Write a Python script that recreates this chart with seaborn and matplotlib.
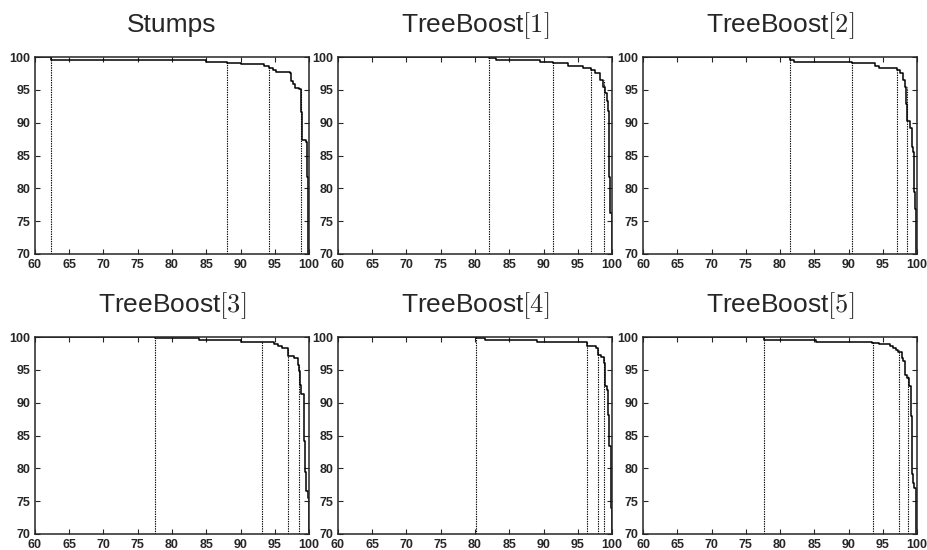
import numpy as np
import pandas as pd
import seaborn as sns
import matplotlib.pyplot as plt

# titulos de cada panel
titles = ['Stumps', r'TreeBoost$[1]$', r'TreeBoost$[2]$',
          r'TreeBoost$[3]$', r'TreeBoost$[4]$', r'TreeBoost$[5]$']

# curvas escalonadas (x donde cambia el nivel, nivel nuevo)
x_stumps = [60, 62.3, 78.3, 80.0, 85.0, 88.0, 90.0, 93.5, 94.2, 94.8, 95.2, 97.2, 97.3, 97.6, 98.0, 98.6, 98.9, 99.0, 99.6, 99.75, 99.9]
y_stumps = [100, 99.6, 99.6, 99.5, 99.3, 99.1, 98.9, 98.7, 98.3, 98.0, 97.7, 97.5, 96.4, 95.9, 95.3, 95.1, 91.6, 87.3, 87.0, 81.8, 70]

x_tb1 = [60, 82.0, 83.1, 89.5, 91.35, 93.6, 95.7, 96.9, 97.5, 98.2, 98.7, 99.0, 99.2, 99.4, 99.5, 99.75, 99.95]
y_tb1 = [100, 99.8, 99.5, 99.3, 99.1, 98.6, 98.3, 98.0, 97.5, 96.5, 95.5, 94.5, 93.3, 91.8, 81.8, 76.3, 70]

x_tb2 = [60, 81.4, 82.0, 90.55, 93.8, 94.5, 97.1, 97.5, 98.0, 98.2, 98.4, 98.6, 99.0, 99.2, 99.4, 99.6, 99.75, 99.9]
y_tb2 = [100, 99.6, 99.3, 99.1, 98.6, 98.3, 98.0, 97.5, 96.5, 95.4, 92.8, 90.2, 89.2, 86.3, 85.5, 79.5, 76.8, 70]

x_tb3 = [60, 77.5, 84.0, 90.0, 92.9, 94.9, 95.5, 96.0, 96.9, 97.8, 98.4, 98.5, 98.7, 98.8, 99.2, 99.4, 99.6, 99.8, 99.95]
y_tb3 = [100, 99.8, 99.6, 99.3, 99.2, 98.9, 98.6, 98.3, 97.1, 96.8, 95.8, 94.8, 92.7, 91.3, 84.1, 79.4, 76.5, 75.5, 70]

x_tb4 = [60, 80.2, 81.5, 89.1, 96.3, 97.6, 97.9, 98.4, 98.8, 99.0, 99.2, 99.4, 99.6, 99.8, 99.9, 99.97]
y_tb4 = [100, 99.8, 99.5, 99.3, 98.7, 98.4, 97.3, 96.9, 96.0, 92.5, 91.9, 88.2, 83.4, 80.0, 73.9, 70]

x_tb5 = [60, 77.7, 85.2, 93.4, 94.5, 96.0, 96.5, 96.9, 97.2, 97.8, 98.0, 98.3, 98.5, 98.8, 99.05, 99.2, 99.4, 99.6, 99.85]
y_tb5 = [100, 99.5, 99.3, 99.1, 98.9, 98.7, 98.4, 98.1, 97.8, 96.8, 96.4, 94.3, 93.8, 92.6, 88.0, 79.1, 77.7, 77.0, 70]

# lineas punteadas verticales
vx_stumps = [62.3, 88.0, 94.2, 98.8]
vx_tb1 = [82.0, 91.35, 96.9, 98.8]
vx_tb2 = [81.4, 90.55, 97.1, 98.5]
vx_tb3 = [77.5, 93.2, 96.9, 98.6]
vx_tb4 = [80.2, 96.3, 97.9, 98.9]
vx_tb5 = [77.7, 93.6, 97.3, 98.7]

curves = [(x_stumps, y_stumps, vx_stumps), (x_tb1, y_tb1, vx_tb1), (x_tb2, y_tb2, vx_tb2),
          (x_tb3, y_tb3, vx_tb3), (x_tb4, y_tb4, vx_tb4), (x_tb5, y_tb5, vx_tb5)]

sns.set_style('ticks')
plt.rcParams['font.family'] = ['Liberation Sans', 'DejaVu Sans']
plt.rcParams['mathtext.fontset'] = 'cm'

fig = plt.figure(figsize=(9.28, 5.5), dpi=100)

lefts = [0.0377, 0.3642, 0.6929]
bottoms = [0.5382, 0.0291]
w, h = 0.2953, 0.358

for i, (xs, ys, vxs) in enumerate(curves):
    ax = fig.add_axes([lefts[i % 3], bottoms[i // 3], w, h])
    df = pd.DataFrame({'x': xs, 'y': ys})
    sns.lineplot(data=df, x='x', y='y', ax=ax, estimator=None, sort=False,
                 drawstyle='steps-post', color='black', linewidth=1.1)

    # altura de cada linea punteada = nivel de la curva en ese x
    xs_arr = np.array(xs)
    ys_arr = np.array(ys)
    idx = np.searchsorted(xs_arr, vxs, side='right') - 2
    idx = np.clip(idx, 0, len(ys_arr) - 1)
    tops = ys_arr[idx]
    ax.vlines(vxs, 70, tops, colors='black', linestyles=(0, (1.2, 1.0)), linewidth=0.8)

    ax.set_xlim(60, 100)
    ax.set_ylim(70, 100)
    ax.set_xticks(np.arange(60, 101, 5))
    ax.set_yticks(np.arange(70, 101, 5))
    ax.tick_params(direction='in', length=3.5, width=0.8, top=True, right=True,
                   labelsize=9, pad=3.5)
    for lab in ax.get_xticklabels() + ax.get_yticklabels():
        lab.set_fontweight('bold')
    for s in ax.spines.values():
        s.set_visible(True)
        s.set_linewidth(1.1)
    ax.set_xlabel('')
    ax.set_ylabel('')
    ax.text(0.5, 1.127, titles[i], transform=ax.transAxes, ha='center', va='baseline',
            fontsize=19)

plt.savefig('out.png', dpi=100)
plt.close()
